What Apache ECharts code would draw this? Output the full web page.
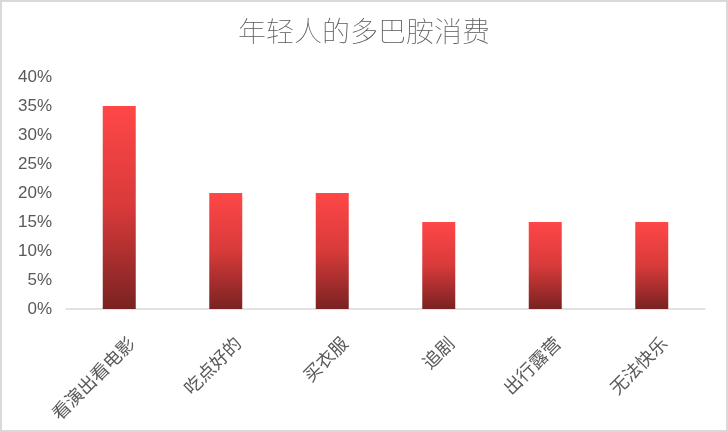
<!DOCTYPE html>
<html><head><meta charset="utf-8">
<script src="https://cdn.jsdelivr.net/npm/echarts@6/dist/echarts.min.js"></script>
<style>
html,body{margin:0;padding:0;background:#fff;}
#c{width:724px;height:428px;border:2px solid #d9d9d9;}
</style></head>
<body><div id="c"></div>
<script>
const titleText = '年轻人的多巴胺消费';
const categories = ['看演出看电影','吃点好的','买衣服','追剧','出行露营','无法快乐'];
const values = [0.35, 0.20, 0.20, 0.15, 0.15, 0.15];

const chart = echarts.init(document.getElementById('c'));
chart.setOption({
  animation:false,
  backgroundColor:'#fff',
  title:{text:titleText,left:'center',top:10,
    textStyle:{fontFamily:'Noto Sans CJK SC',fontWeight:'lighter',fontSize:28,color:'#595959'}},
  grid:{left:64,right:21,top:75,bottom:121,containLabel:false},
  xAxis:{type:'category',data:categories,
    axisLine:{lineStyle:{color:'#d9d9d9',width:1.5}},
    axisTick:{show:false},
    axisLabel:{rotate:45,margin:19,interval:0,verticalAlign:'top',padding:[8,0,0,0],
      fontFamily:'Noto Sans CJK SC',fontSize:18,color:'#595959'}},
  yAxis:{type:'value',min:0,max:0.4,interval:0.05,
    splitLine:{show:false},axisLine:{show:false},axisTick:{show:false},
    axisLabel:{margin:14,fontFamily:'Liberation Sans, Arial',fontSize:17,color:'#595959',
      formatter:v=>Math.round(v*100)+'%'}},
  series:[{type:'bar',data:values,barWidth:33,
    itemStyle:{color:new echarts.graphic.LinearGradient(0,0,0,1,[
      {offset:0,color:'#ff4747'},{offset:0.5,color:'#d83a3a'},{offset:1,color:'#7a2222'}])}}]
});
</script></body></html>
